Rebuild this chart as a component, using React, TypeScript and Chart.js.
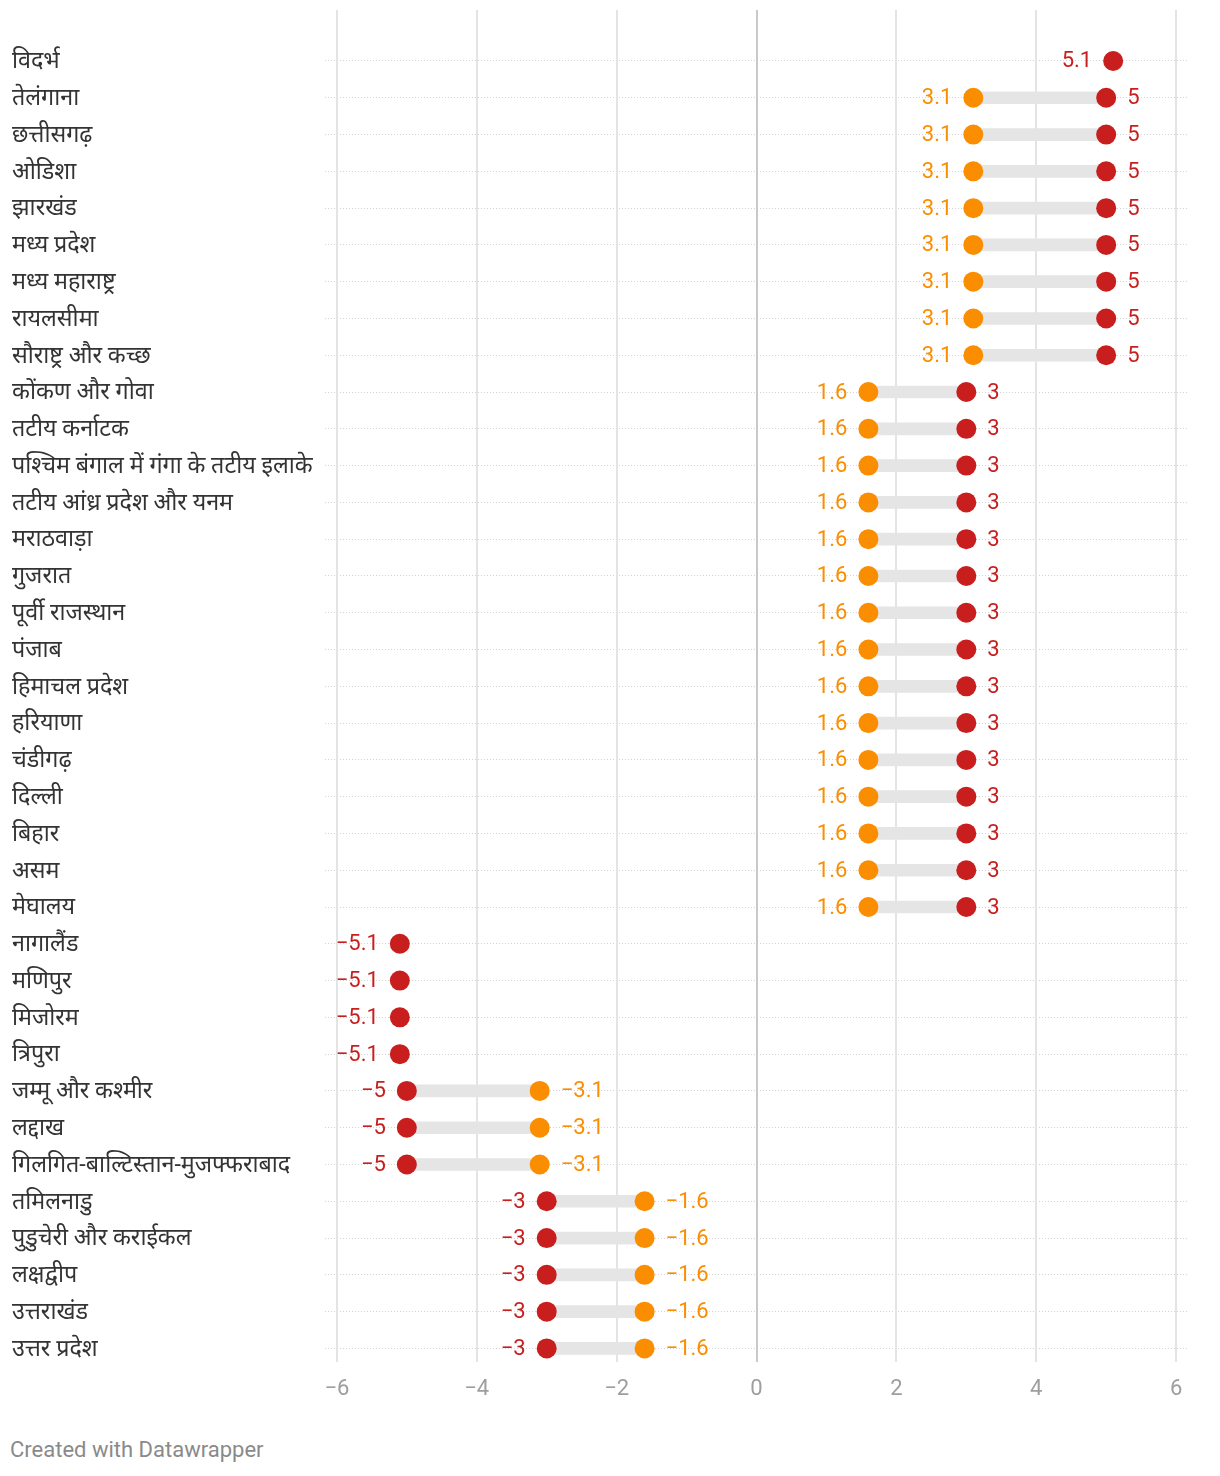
import React, { useEffect, useRef } from "react";
import { Chart, registerables } from "chart.js";

Chart.register(...registerables);

const categories: string[] = [
  "विदर्भ",
  "तेलंगाना",
  "छत्तीसगढ़",
  "ओडिशा",
  "झारखंड",
  "मध्य प्रदेश",
  "मध्य महाराष्ट्र",
  "रायलसीमा",
  "सौराष्ट्र और कच्छ",
  "कोंकण और गोवा",
  "तटीय कर्नाटक",
  "पश्चिम बंगाल में गंगा के तटीय इलाके",
  "तटीय आंध्र प्रदेश और यनम",
  "मराठवाड़ा",
  "गुजरात",
  "पूर्वी राजस्थान",
  "पंजाब",
  "हिमाचल प्रदेश",
  "हरियाणा",
  "चंडीगढ़",
  "दिल्ली",
  "बिहार",
  "असम",
  "मेघालय",
  "नागालैंड",
  "मणिपुर",
  "मिजोरम",
  "त्रिपुरा",
  "जम्मू और कश्मीर",
  "लद्दाख",
  "गिलगित-बाल्टिस्तान-मुजफ्फराबाद",
  "तमिलनाडु",
  "पुडुचेरी और कराईकल",
  "लक्षद्वीप",
  "उत्तराखंड",
  "उत्तर प्रदेश",
];

const orangeValues: (number | null)[] = [
  null,
  3.1, 3.1, 3.1, 3.1, 3.1, 3.1, 3.1, 3.1,
  1.6, 1.6, 1.6, 1.6, 1.6, 1.6, 1.6, 1.6, 1.6, 1.6, 1.6, 1.6, 1.6, 1.6, 1.6,
  null, null, null, null,
  -3.1, -3.1, -3.1,
  -1.6, -1.6, -1.6, -1.6, -1.6,
];

const redValues: (number | null)[] = [
  5.1,
  5, 5, 5, 5, 5, 5, 5, 5,
  3, 3, 3, 3, 3, 3, 3, 3, 3, 3, 3, 3, 3, 3, 3,
  -5.1, -5.1, -5.1, -5.1,
  -5, -5, -5,
  -3, -3, -3, -3, -3,
];

const xTicks: number[] = [-6, -4, -2, 0, 2, 4, 6];

const ORANGE = "#fb8d00";
const RED = "#c91e1e";
const FONT = "Roboto, 'Noto Sans', sans-serif";

const fmt = (v: number) => (v < 0 ? "\u2212" + String(Math.abs(v)) : String(v));

const gridPlugin = {
  id: "vgrid",
  beforeDatasetsDraw(chart: any) {
    const ctx = chart.ctx;
    const xs = chart.scales.x;
    ctx.save();
    xTicks.forEach((v) => {
      const x = Math.round(xs.getPixelForValue(v));
      ctx.beginPath();
      ctx.strokeStyle = v === 0 ? "#c9c9c9" : "#e4e4e4";
      ctx.lineWidth = 2;
      ctx.moveTo(x, 2);
      ctx.lineTo(x, 1354);
      ctx.stroke();
    });
    ctx.restore();
  },
};

const labelPlugin = {
  id: "vlabels",
  afterDatasetsDraw(chart: any) {
    const ctx = chart.ctx;
    ctx.save();
    ctx.font = "22px " + FONT;
    ctx.textBaseline = "middle";
    const series = [
      { idx: 1, values: orangeValues, other: redValues, color: ORANGE },
      { idx: 2, values: redValues, other: orangeValues, color: RED },
    ];
    series.forEach((s) => {
      const meta = chart.getDatasetMeta(s.idx);
      meta.data.forEach((pt: any, i: number) => {
        const v = s.values[i];
        if (v == null) return;
        const o = s.other[i];
        const left = o == null ? true : v < o;
        ctx.fillStyle = s.color;
        if (left) {
          ctx.textAlign = "right";
          ctx.fillText(fmt(v), pt.x - 21, pt.y + 1);
        } else {
          ctx.textAlign = "left";
          ctx.fillText(fmt(v), pt.x + 21, pt.y + 1);
        }
      });
    });
    ctx.restore();
  },
};

export default function App() {
  const ref = useRef<HTMLCanvasElement | null>(null);

  useEffect(() => {
    if (!ref.current) return;
    const barData = orangeValues.map((o, i) =>
      o != null && redValues[i] != null ? [o, redValues[i] as number] : null
    );
    const chart = new Chart(ref.current, {
      type: "bar",
      data: {
        labels: categories,
        datasets: [
          {
            type: "bar",
            data: barData as any,
            backgroundColor: "#e5e5e5",
            barThickness: 12,
            grouped: false,
            order: 3,
            indexAxis: "y",
          } as any,
          {
            type: "line",
            data: orangeValues as any,
            showLine: false,
            pointRadius: 10,
            pointHoverRadius: 10,
            pointBackgroundColor: ORANGE,
            pointBorderWidth: 0,
            borderColor: ORANGE,
            order: 1,
            indexAxis: "y",
          } as any,
          {
            type: "line",
            data: redValues as any,
            showLine: false,
            pointRadius: 10,
            pointHoverRadius: 10,
            pointBackgroundColor: RED,
            pointBorderWidth: 0,
            borderColor: RED,
            order: 1,
            indexAxis: "y",
          } as any,
        ],
      },
      options: {
        indexAxis: "y",
        responsive: false,
        animation: false,
        layout: { padding: { top: 34.6, bottom: 21.2, left: 4, right: 24 } },
        plugins: {
          legend: { display: false },
          tooltip: { enabled: false },
        },
        scales: {
          x: {
            type: "linear",
            min: -6.17,
            max: 6.17,
            afterBuildTicks: (scale: any) => {
              scale.ticks = xTicks.map((v) => ({ value: v }));
            },
            afterFit: (scale: any) => {
              scale.height = 40;
            },
            grid: { display: false, drawTicks: false },
            border: { display: false },
            ticks: {
              padding: 9,
              color: "#9e9e9e",
              font: { family: FONT, size: 22 },
              callback: (v: any) => fmt(Number(v)),
            },
          },
          y: {
            type: "category",
            offset: true,
            afterFit: (scale: any) => {
              scale.width = 313;
            },
            grid: {
              display: true,
              offset: false,
              color: "#d3d3d3",
              lineWidth: 1,
              drawTicks: false,
            },
            border: { display: false, dash: [1, 2] },
            ticks: {
              crossAlign: "far",
              padding: 0,
              labelOffset: 1.5,
              color: "#333333",
              font: { family: FONT, size: 23.3 },
            },
          },
        },
      },
      plugins: [gridPlugin, labelPlugin],
    });
    return () => chart.destroy();
  }, []);

  return (
    <div style={{ width: 1204 }}>
      <canvas ref={ref} width={1204} height={1420} style={{ display: "block" }} />
      <div
        style={{
          fontFamily: FONT,
          fontSize: 22,
          lineHeight: "26px",
          color: "#8a8a8a",
          marginTop: 9,
          paddingLeft: 2,
        }}
      >
        Created with Datawrapper
      </div>
    </div>
  );
}
